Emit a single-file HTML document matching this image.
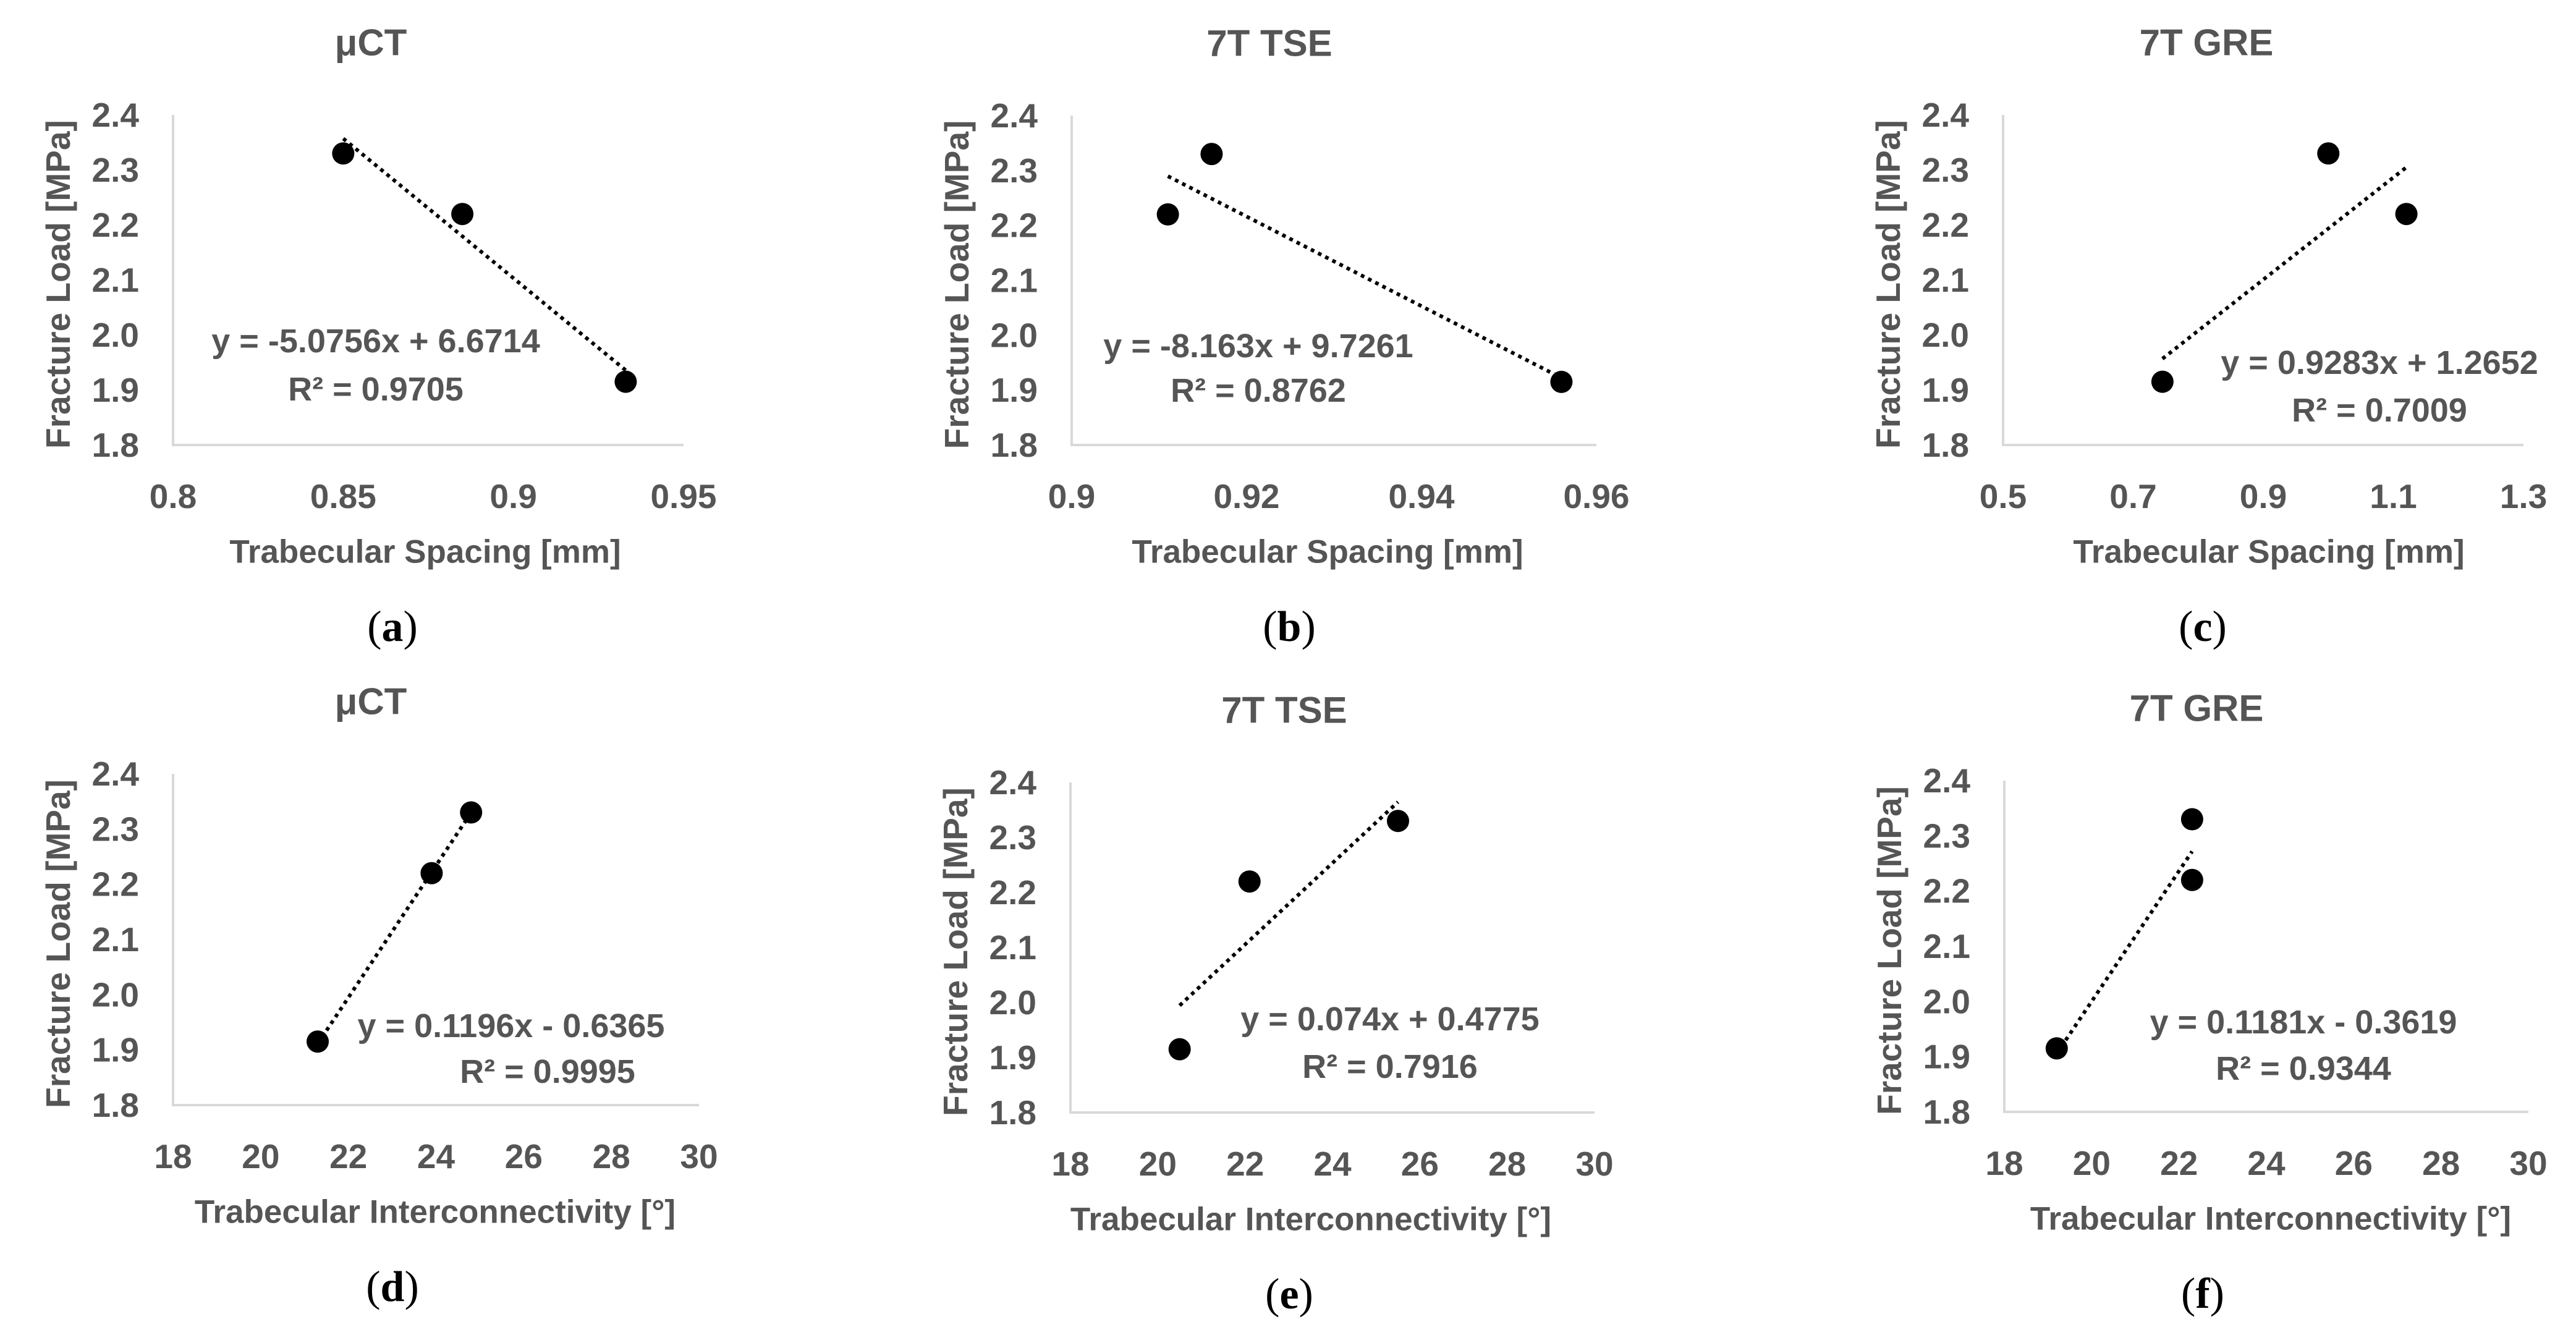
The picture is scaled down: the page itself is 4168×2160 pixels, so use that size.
<!DOCTYPE html>
<html><head><meta charset="utf-8"><style>
html,body{margin:0;padding:0;background:#fff}
svg{display:block}
text{font-family:"Liberation Sans",sans-serif;fill:#555;font-weight:bold}
</style></head><body>
<svg id="fig" width="4168" height="2160" viewBox="0 0 4168 2160" xmlns="http://www.w3.org/2000/svg"></svg>
<script>
const yTicks = [1.8, 1.9, 2.0, 2.1, 2.2, 2.3, 2.4];
const yTickLabels = ["1.8","1.9","2.0","2.1","2.2","2.3","2.4"];
const aX = [0.85, 0.885, 0.933];
const aY = [2.33, 2.22, 1.915];
const bX = [0.911, 0.916, 0.956];
const bY = [2.22, 2.33, 1.915];
const cX = [0.745, 1.0, 1.12];
const cY = [1.915, 2.33, 2.22];
const dX = [21.3, 23.9, 24.8];
const dY = [1.915, 2.22, 2.33];
const eX = [20.5, 22.1, 25.5];
const eY = [1.915, 2.22, 2.33];
const fX = [19.2, 22.3, 22.3];
const fY = [1.915, 2.22, 2.33];
const slopes = [-5.0756, -8.163, 0.9283, 0.1196, 0.074, 0.1181];
const intercepts = [6.6714, 9.7261, 1.2652, -0.6365, 0.4775, -0.3619];
const r2 = ["0.9705","0.8762","0.7009","0.9995","0.7916","0.9344"];
const xTicksA = ["0.8","0.85","0.9","0.95"];
const xTicksB = ["0.9","0.92","0.94","0.96"];
const xTicksC = ["0.5","0.7","0.9","1.1","1.3"];
const xTicksD = ["18","20","22","24","26","28","30"];
const titles = ["μCT","7T TSE","7T GRE","μCT","7T TSE","7T GRE"];
const xTitles = ["Trabecular Spacing [mm]","Trabecular Spacing [mm]","Trabecular Spacing [mm]","Trabecular Interconnectivity [°]","Trabecular Interconnectivity [°]","Trabecular Interconnectivity [°]"];
const letters = ["a","b","c","d","e","f"];

const panels = [
 {L:280,R:1106,T:186,B:720,xt:xTicksA,xs:aX,ys:aY,tx:600,eq:[608,552,608,630],xtx:688,sx:635},
 {L:1734,R:2583,T:187,B:720,xt:xTicksB,xs:bX,ys:bY,tx:2054,eq:[2036,560,2036,632],xtx:2148,sx:2086},
 {L:3241,R:4083,T:186,B:720,xt:xTicksC,xs:cX,ys:cY,tx:3570,eq:[3850,587,3850,664],xtx:3671,sx:3564},
 {L:280,R:1131,T:1252,B:1788,xt:xTicksD,xs:dX,ys:dY,tx:600,eq:[827,1660,886,1734],xtx:704,sx:635},
 {L:1732,R:2580,T:1266,B:1800,xt:xTicksD,xs:eX,ys:eY,tx:2078,eq:[2249,1649,2249,1726],xtx:2121,sx:2086},
 {L:3243,R:4091,T:1263,B:1799,xt:xTicksD,xs:fX,ys:fY,tx:3554,eq:[3727,1654,3727,1729],xtx:3674,sx:3564}
];
const NS="http://www.w3.org/2000/svg";
const svg=document.getElementById('fig');
function mk(tag,attrs,parent){const e=document.createElementNS(NS,tag);for(const k in attrs)e.setAttribute(k,attrs[k]);(parent||svg).appendChild(e);return e;}
function txt(s,x,y,size,anchor,parent){const t=mk('text',{x:x,y:y,'font-size':size,'text-anchor':anchor||'middle','dominant-baseline':'central'},parent);t.textContent=s;return t;}

panels.forEach((p,i)=>{
  const g=mk('g',{});
  
  
  const x0=parseFloat(p.xt[0]), x1=parseFloat(p.xt[p.xt.length-1]);
  const sx=v=>p.L+(v-x0)/(x1-x0)*(p.R-p.L);
  const sy=v=>p.B-(v-1.8)/(2.4-1.8)*(p.B-p.T);
  const ax=mk('path',{d:`M${p.L} ${p.T}V${p.B}H${p.R}`,fill:'none',stroke:'#d9d9d9','stroke-width':4},g);
  
  
  yTicks.forEach((v,k)=>{const t=txt(yTickLabels[k],p.L-55,sy(v),55,'end',g);
    
    });
  p.xt.forEach(s=>{const t=txt(s,sx(parseFloat(s)),p.B+83,55,'middle',g);
    
    });
  const tt=txt(titles[i],p.tx,p.T-117,60,'middle',g);
  
  
  const xt=txt(xTitles[i],p.xtx,p.B+173,53,'middle',g);
  
  
  const cy=(p.T+p.B)/2+7, cx=p.L-186;
  const yt=txt('Fracture Load [MPa]',cx,cy,55,'middle',g);
  yt.setAttribute('transform',`rotate(-90 ${cx} ${cy})`);
  
  
  const mn=Math.min(...p.xs), mxv=Math.max(...p.xs);
  const m=slopes[i], b=intercepts[i];
  const tl=mk('line',{x1:sx(mn),y1:sy(m*mn+b),x2:sx(mxv),y2:sy(m*mxv+b),stroke:'#000','stroke-width':6,'stroke-dasharray':'6 7'},g);
  
  
  p.xs.forEach((v,k)=>{const c=mk('circle',{cx:sx(v),cy:sy(p.ys[k]),r:18,fill:'#000'},g);
    
    });
  const sign=b<0?' - ':' + ';
  const eqs='y = '+m+'x'+sign+Math.abs(b).toFixed(4);
  const e1=txt(eqs,p.eq[0],p.eq[1],54,'middle',g);
  
  
  const e2=txt('R² = '+r2[i],p.eq[2],p.eq[3],54,'middle',g);
  
  
  const sl=mk('text',{x:p.sx,y:p.B+294,'font-size':70,'text-anchor':'middle','dominant-baseline':'central',style:'font-family:"Liberation Serif",serif;fill:#000;font-weight:normal'},g);
  sl.innerHTML='(<tspan font-weight="bold">'+letters[i]+'</tspan>)';
  
  
});
</script>
</body></html>
